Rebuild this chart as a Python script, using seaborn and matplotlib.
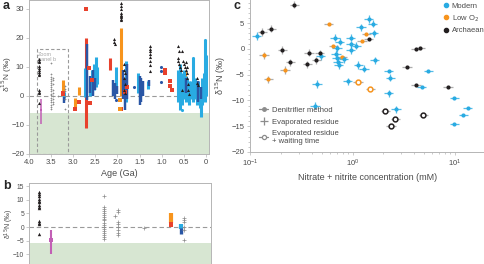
import numpy as np
import pandas as pd
import seaborn as sns
import matplotlib.pyplot as plt
from matplotlib.lines import Line2D
from matplotlib.patches import Rectangle

sns.set_theme(style="ticks")
plt.rcParams['font.family'] = ['Liberation Sans', 'DejaVu Sans']

LB = '#29abe2'   # light blue
DB = '#2a56a5'   # dark blue
OR = '#f7941d'   # orange
RD = '#e8412c'   # red
BK = '#231f20'   # black
GR = '#8c8c8c'   # grey
MG = '#c25fb5'   # magenta
GREEN = '#d7e6d2'
TXT = '#4a4a4a'
SPN = '#b5b5b5'

# ---------------- panel a / b : d15N through time ----------------
# single points (age Ga, d15N permil)
tri_age = [3.77, 3.77, 3.77, 3.77, 3.77, 3.77, 3.77, 3.77, 3.77, 3.77, 3.77, 3.77, 3.77,
           2.08, 2.08, 2.06,
           1.93, 1.93, 1.93, 1.93, 1.93, 1.93, 1.93, 1.93, 1.93,
           1.85, 1.85, 1.84, 1.85, 1.84, 1.85, 1.84,
           1.27, 1.27, 1.27, 1.27, 1.27, 1.27, 1.27, 1.27,
           0.63, 0.60, 0.55, 0.63, 0.62, 0.60, 0.58, 0.56, 0.52, 0.50, 0.48, 0.46,
           0.44, 0.43, 0.42, 0.42, 0.41, 0.40, 0.38, 0.55, 0.21, 0.20, 0.18]
tri_d15n = [12.8, 12.1, 11.5, 10.4, 9.7, 9.0, 8.2, 7.5, 7.1, 2.1, 1.5, 1.1, -2.5,
            19.5, 18.6, 18.0,
            32.0, 31.0, 30.0, 28.6, 28.0, 27.4, 27.0, 26.5, 26.0,
            11.0, 9.0, 8.0, 6.0, 4.0, 2.0, 1.0,
            17.0, 16.0, 15.3, 14.5, 13.5, 12.0, 10.5, 8.5,
            17.3, 15.3, 15.3, 13.0, 12.0, 11.0, 10.0, 9.0, 12.0, 11.0, 10.0, 9.0,
            11.7, 10.0, 8.0, 6.0, 4.0, 2.0, 0.5, 2.0, 6.0, 4.5, 3.7]

plus_age = [3.51, 3.51, 3.51, 3.51, 3.51, 3.51, 3.51, 3.51, 3.51, 3.51, 3.51, 3.51,
            3.51, 3.51, 3.51, 3.51, 3.51, 3.51,
            3.455, 3.455, 3.465, 3.455, 3.455, 3.455, 3.455, 3.455, 3.455,
            3.35, 3.19, 3.19, 3.19, 3.19, 3.19, 3.19]
plus_d15n = [11.2, 7.4, 6.6, 5.9, 5.2, 4.4, 3.6, 3.0, 2.5, 1.6, 0.8, 0.2,
             -0.6, -1.4, -2.2, -3.0, -3.8, -4.5,
             6.2, 5.6, 4.0, 1.9, 1.0, 0.0, -1.2, -2.0, -2.8,
             -0.2, 3.3, 2.5, 1.8, 0.0, -1.2, -4.6]

red_age = [3.24, 3.24, 2.70, 2.96, 2.87, 2.64, 2.63, 2.57, 1.93, 1.84, 1.78,
           0.93, 0.93, 0.82, 0.82, 0.77]
red_d15n = [0.8, 1.1, 30.0, -4.5, -2.0, 9.6, -2.5, 5.5, -4.6, 1.5, 3.0,
            9.0, 7.8, 5.2, 3.4, 2.1]

orange_age = [1.95, 1.95]
orange_d15n = [-1.4, -4.6]

darkblue_age = [1.62, 1.02, 1.02, 1.02, 2.03]
darkblue_d15n = [3.0, 10.0, 8.6, 4.9, -1.5]

lightblue_age = [0.29, 0.55, 0.02]
lightblue_d15n = [13.0, -4.8, 19.3]

# densely sampled units shown as ranges: age, min, max
red_col_age = [2.70, 2.17]
red_col_lo = [-11.0, 9.0]
red_col_hi = [20.0, 13.0]

orange_col_age = [3.24, 2.96, 2.88, 1.93, 0.47]
orange_col_lo = [1.5, -3.8, 0.3, 0.0, 5.5]
orange_col_hi = [5.3, -0.7, 3.1, 23.4, 8.5]

darkblue_col_age = [3.20, 2.69, 2.61, 2.56, 2.51, 2.10, 2.06, 2.00, 1.88, 1.84, 1.79,
                    1.50, 1.46, 1.42, 1.29, 0.44, 0.18, 0.12]
darkblue_col_lo = [-2.4, -1.5, 1.0, 0.0, 2.0, 0.0, -1.0, 0.5, -1.0, -5.0, -1.0,
                   -3.0, -2.0, 0.0, 3.5, 1.0, -2.0, -1.0]
darkblue_col_hi = [-0.3, 18.0, 7.0, 9.0, 6.0, 5.5, 4.5, 3.5, 9.0, 6.0, 11.0,
                   7.0, 6.0, 5.0, 5.5, 6.0, 5.0, 3.0]

lightblue_col_age = [3.20, 2.73, 2.62, 2.58, 2.53, 2.49, 2.46, 2.04, 1.81, 1.53, 1.31,
                     0.62, 0.58, 0.54, 0.50, 0.46, 0.42, 0.38, 0.34, 0.29, 0.25,
                     0.21, 0.17, 0.13, 0.11, 0.08, 0.05, 0.02, 0.00]
lightblue_col_lo = [-0.7, -0.3, 0.0, 1.0, 2.0, 3.0, 4.0, 1.0, -2.0, 1.0, 2.5,
                    -2.0, -5.0, -3.0, -1.0, -2.0, 0.0, -3.0, -1.0, -2.0, -1.0,
                    -3.0, -1.0, -4.0, -7.3, -3.0, -1.0, -2.0, 0.0]
lightblue_col_hi = [1.2, 9.6, 6.0, 9.0, 11.0, 13.5, 10.0, 10.0, 12.0, 8.0, 5.0,
                    9.0, 11.0, 8.0, 9.0, 7.0, 6.0, 5.0, 5.0, 13.0, 6.0,
                    4.0, 5.0, 3.0, 1.0, 6.0, 8.0, 19.3, 14.0]

isua_age = 3.72
isua_lo, isua_mid, isua_hi = -9.7, -4.9, -1.0

# ---------------- panel c : experiments ----------------
c_conc = [0.116, 0.49, 0.673, 0.705, 0.69, 0.70, 0.72, 0.73, 0.748, 0.818, 0.957, 0.957,
          0.957, 1.09, 1.21, 1.44, 1.57, 1.61, 1.64, 1.14, 1.29, 2.25, 5.47, 2.34, 0.45,
          0.90, 0.43, 2.25, 2.65, 4.74, 9.85, 13.3, 12.0, 9.85,
          0.137, 0.219, 0.151, 0.585, 0.649, 0.787, 1.36, 1.24, 1.13, 1.49,
          0.27, 0.132, 0.162, 0.206, 0.248, 0.377, 0.363, 0.443, 0.48, 1.44, 4.15, 4.6,
          3.4, 4.15, 8.55, 2.09, 2.61, 2.37, 4.92]
c_d15n = [2.5, -1.4, 2.2, 0.1, -1.0, -1.7, -2.5, -3.1, 1.4, -2.0, 2.2, 0.9,
          -0.2, 0.6, 4.2, 5.8, 4.9, 3.0, -2.2, -3.1, -3.8, -4.3, -4.3, -5.6, -6.8,
          -6.3, -11.0, -8.6, -11.7, -7.4, -9.5, -11.5, -12.8, -14.6,
          -1.2, -4.1, -5.9, 4.9, 0.65, -1.6, 2.9, 1.6, -6.5, -7.7,
          8.6, 3.3, 3.9, -0.2, -2.6, -0.7, -3.0, -2.2, -0.85, 2.0, 0.06, 0.25,
          -3.5, -7.0, -7.4, -12.1, -13.5, -14.9, -12.9]
c_group = ['Modern'] * 34 + ['Low O$_2$'] * 10 + ['Archaean'] * 19
c_method = (['evap'] * 21 + ['den', 'den', 'evap', 'evap', 'evap', 'evap', 'evap', 'evap',
             'den', 'den', 'den', 'den', 'den'] +
            ['evap', 'evap', 'evap', 'den', 'den', 'den', 'den', 'den', 'wait', 'wait'] +
            ['evap'] * 9 + ['den'] * 6 + ['wait'] * 4)
conc_rel_err = 0.11
d15n_err = 0.7

dfc = pd.DataFrame({'conc': c_conc, 'd15n': c_d15n, 'group': c_group, 'method': c_method})
palette = {'Modern': LB, 'Low O$_2$': OR, 'Archaean': BK}

fig = plt.figure(figsize=(4.85, 2.64), dpi=100)
W, H = 485, 264
ax_a = fig.add_axes([29 / W, 1 - 154 / H, 180 / W, 154 / H])
ax_b = fig.add_axes([29 / W, 0, 182 / W, 81 / H])
ax_c = fig.add_axes([250 / W, 1 - 152 / H, 235 / W, 152 / H])


def draw_time(ax, lw, ms, pls):
    ax.axhspan(-20, -5.8, color=GREEN, lw=0, zorder=0)
    ax.axhline(0, color='#9a9a9a', ls=(0, (4, 2.5)), lw=0.8, zorder=1)
    ax.vlines(red_col_age, red_col_lo, red_col_hi, color=RD, lw=lw, zorder=2)
    ax.vlines(orange_col_age, orange_col_lo, orange_col_hi, color=OR, lw=lw, zorder=2)
    ax.vlines(lightblue_col_age, lightblue_col_lo, lightblue_col_hi, color=LB, lw=lw, zorder=3)
    ax.vlines(darkblue_col_age, darkblue_col_lo, darkblue_col_hi, color=DB, lw=lw * 0.8, zorder=3)
    ax.vlines([isua_age], [isua_lo], [isua_hi], color=MG, lw=lw * 0.5, zorder=3)
    ax.scatter([isua_age], [isua_mid], color=MG, s=ms * 0.8, marker='s', lw=0, zorder=4)
    sns.scatterplot(x=red_age, y=red_d15n, color=RD, marker='s', s=ms, linewidth=0, ax=ax, zorder=4)
    sns.scatterplot(x=orange_age, y=orange_d15n, color=OR, marker='s', s=ms, linewidth=0, ax=ax, zorder=4)
    sns.scatterplot(x=darkblue_age, y=darkblue_d15n, color=DB, marker='o', s=ms, linewidth=0, ax=ax, zorder=4)
    sns.scatterplot(x=lightblue_age, y=lightblue_d15n, color=LB, marker='o', s=ms, linewidth=0, ax=ax, zorder=4)
    sns.scatterplot(x=plus_age, y=plus_d15n, color=GR, marker='+', s=pls, linewidth=0.5, ax=ax, zorder=4)
    sns.scatterplot(x=tri_age, y=tri_d15n, color=BK, marker='^', s=ms, linewidth=0, ax=ax, zorder=5)
    for s in ax.spines.values():
        s.set_color(SPN)
        s.set_linewidth(0.7)


draw_time(ax_a, 2.2, 5, 3)
ax_a.set_xlim(4.0, -0.07)
ax_a.set_ylim(-20, 33)
ax_a.set_xticks([4.0, 3.5, 3.0, 2.5, 2.0, 1.5, 1.0, 0.5, 0])
ax_a.set_xticklabels(['4.0', '3.5', '3.0', '2.5', '2.0', '1.5', '1.0', '0.5', '0'])
ax_a.set_yticks([-20, -10, 0, 10, 20, 30])
ax_a.tick_params(labelsize=5.5, length=2, width=0.5, color=SPN, labelcolor=TXT, pad=1.5)
ax_a.set_xlabel('Age (Ga)', fontsize=6.5, color=TXT, labelpad=2)
ax_a.set_ylabel('δ$^{15}$N (‰)', fontsize=6, color=TXT)
ax_a.yaxis.set_label_coords(-0.085, 0.52)
ax_a.add_patch(Rectangle((3.81, -20), -0.69, 36, fill=False, ec='#9a9a9a', lw=0.8,
                         ls=(0, (3, 2)), zorder=1))
ax_a.text(3.79, 15.2, 'Zoom\npanel b', fontsize=4, color='#a8a8a8', va='top', ha='left',
          linespacing=1.1)

draw_time(ax_b, 3.0, 6, 6)
ax_b.set_xlim(3.81, 3.08)
ax_b.set_ylim(-13.5, 16.1)
ax_b.set_xticks([])
ax_b.set_yticks([-10, -5, 0, 5, 10, 15])
ax_b.spines['bottom'].set_visible(False)
ax_b.tick_params(labelsize=4.8, length=2, width=0.5, color=SPN, labelcolor=TXT, pad=1.5)
ax_b.set_ylabel('δ$^{15}$N (‰)', fontsize=5, color=TXT)
ax_b.yaxis.set_label_coords(-0.072, 0.5)

# panel c
for method in ['den', 'evap', 'wait']:
    for grp, col in palette.items():
        sub = dfc[(dfc.method == method) & (dfc.group == grp)]
        if sub.empty:
            continue
        xerr = [sub.conc - sub.conc / (1 + conc_rel_err), sub.conc * conc_rel_err]
        yerr = d15n_err if method == 'evap' else None
        ecol = col if grp == 'Modern' else '#9a9a9a'
        ax_c.errorbar(sub.conc, sub.d15n, xerr=xerr, yerr=yerr, fmt='none', ecolor=ecol,
                      elinewidth=0.9, alpha=0.8, zorder=2)
        if method == 'wait':
            sns.scatterplot(data=sub, x='conc', y='d15n', marker='o', s=12, facecolor='white',
                            edgecolor=col, linewidth=1.1, ax=ax_c, zorder=3, legend=False)
        else:
            sns.scatterplot(data=sub, x='conc', y='d15n', marker='o', s=9, color=col,
                            linewidth=0, ax=ax_c, zorder=3, legend=False)

ax_c.set_xscale('log')
ax_c.set_xlim(0.1, 19.6)
ax_c.set_ylim(-20, 9.5)
ax_c.set_yticks([-20, -15, -10, -5, 0, 5])
ax_c.set_yticks(np.arange(-20, 10, 1), minor=True)
sns.despine(ax=ax_c)
for s in ['left', 'bottom']:
    ax_c.spines[s].set_color(SPN)
    ax_c.spines[s].set_linewidth(0.7)
ax_c.tick_params(which='both', labelsize=5.5, length=2, width=0.5, color=SPN, labelcolor=TXT, pad=2)
ax_c.tick_params(which='minor', length=1.3)
ax_c.set_xlabel('Nitrate + nitrite concentration (mM)', fontsize=6.5, color=TXT, labelpad=3)
ax_c.set_ylabel('δ$^{15}$N (‰)', fontsize=6.5, color=TXT)
ax_c.yaxis.set_label_coords(-0.092, 0.5)

h1 = [Line2D([], [], ls='none', marker='o', ms=3, color=palette[g], label=g) for g in palette]
leg1 = ax_c.legend(handles=h1, loc='upper right', bbox_to_anchor=(1.02, 1.02), frameon=False,
                   fontsize=5.5, handletextpad=0.1, labelspacing=0.45, borderpad=0.2,
                   handlelength=1.2, labelcolor=TXT)
ax_c.add_artist(leg1)
h2 = [Line2D([], [], color='#8c8c8c', lw=0.9, marker='o', ms=2.5, label='Denitrifier method'),
      Line2D([], [], color='#8c8c8c', ls='none', marker='+', ms=6, mew=0.9, label='Evaporated residue'),
      Line2D([], [], color='#8c8c8c', lw=0.9, marker='o', ms=3, mfc='white', mew=0.9,
             label='Evaporated residue\n+ waiting time')]
ax_c.legend(handles=h2, loc='lower left', bbox_to_anchor=(0.01, 0.0), frameon=False,
            fontsize=5.5, handletextpad=0.5, labelspacing=0.6, handlelength=1.2, labelcolor=TXT)

fig.text(3 / W, 1 - 6 / H, 'a', fontsize=9, fontweight='bold', va='center', ha='left')
fig.text(3 / W, 1 - 186 / H, 'b', fontsize=9, fontweight='bold', va='center', ha='left')
fig.text(234 / W, 1 - 6 / H, 'c', fontsize=9, fontweight='bold', va='center', ha='left')

fig.savefig('out.png', dpi=100)
